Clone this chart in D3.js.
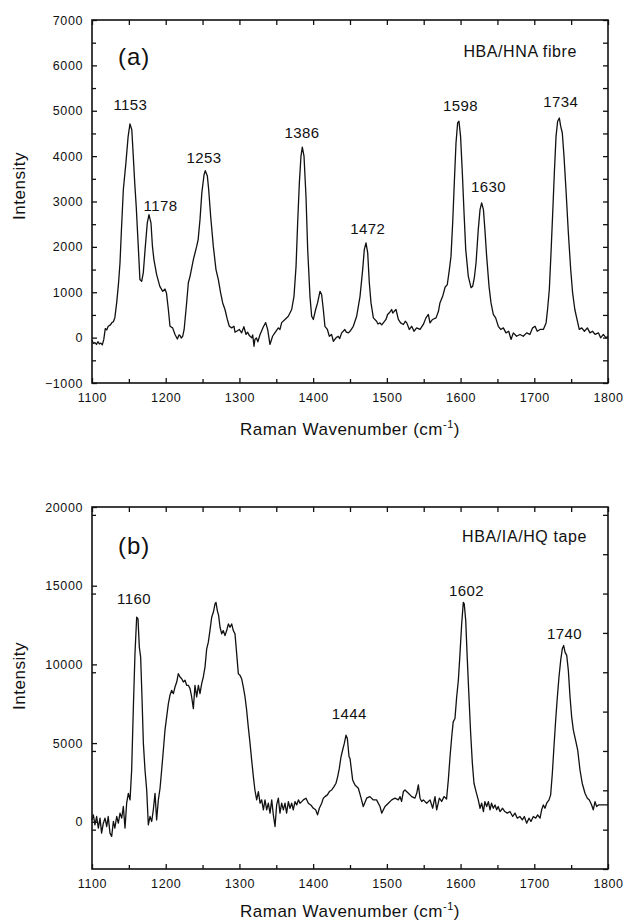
<!DOCTYPE html>
<meta charset="utf-8">

<!-- Load d3.js -->
<script src="https://d3js.org/d3.v7.min.js"></script>

<style>
  body { margin: 0; background: #fff; }
  svg text { font-family: "Liberation Sans", Arial, Helvetica, sans-serif; fill: #111; }
</style>

<!-- Create a div where the graph will take place -->
<div id="my_dataviz"></div>

<script>

  // ---- panel (a) : HBA/HNA fibre ----
  var wavenumberA = [1100, 1102, 1104, 1106, 1108, 1110, 1112, 1114, 1116, 1118, 1120, 1122, 1125, 1127, 1129, 1131,
    1133.5, 1136, 1138, 1140, 1142.5, 1146, 1149, 1151.5, 1154, 1156, 1158, 1160, 1163, 1165, 1167.4, 1169.6, 1172,
    1175, 1177.3, 1180, 1182, 1184, 1187.7, 1190, 1192, 1196, 1199, 1201, 1203.6, 1205.8, 1209.4, 1212.6, 1215.8,
    1218, 1219.4, 1221, 1223, 1225, 1228.4, 1230.7, 1233, 1237.5, 1242, 1244, 1246.5, 1249, 1252, 1253.7, 1256.5,
    1258.3, 1261, 1264.6, 1268.2, 1271.4, 1274.5, 1277.3, 1280.4, 1283.6, 1286.3, 1289.4, 1292.6, 1294, 1296.3,
    1299.8, 1303, 1306, 1309, 1311, 1313.5, 1316.6, 1318, 1319.8, 1321, 1323, 1325, 1328, 1332.5, 1335.6, 1338.3,
    1341.4, 1345, 1348, 1352.8, 1355, 1357.3, 1361.8, 1366.3, 1370.9, 1374, 1376.8, 1379, 1381.3, 1383.5, 1385.3,
    1387.6, 1390.3, 1392.6, 1395.7, 1398, 1400.3, 1403.4, 1406, 1409.3, 1411.5, 1413.8, 1416, 1419.3, 1422, 1425,
    1427.4, 1431, 1434, 1436, 1438.7, 1443, 1445, 1447.8, 1450, 1454.5, 1459, 1463.6, 1467.2, 1469.4, 1471.7, 1474,
    1476.2, 1478.5, 1481.7, 1486, 1488, 1490.7, 1493, 1495.2, 1498.8, 1501, 1504, 1506.5, 1508, 1510, 1512.4,
    1515.6, 1518.7, 1522.4, 1525, 1527, 1530.5, 1533.7, 1536.8, 1540.4, 1545, 1549.5, 1553, 1556.3, 1558.5, 1562,
    1566.7, 1570, 1572, 1575.7, 1579, 1582, 1584.8, 1587, 1589.3, 1591.5, 1593.8, 1596, 1597.8, 1600, 1602.4,
    1604.7, 1607, 1610.5, 1614.2, 1616.4, 1618.7, 1621, 1624, 1626.4, 1628.6, 1631, 1633, 1635.4, 1638.6, 1641.3,
    1644.4, 1647.6, 1651.2, 1654.4, 1658, 1661.6, 1665.3, 1668.4, 1671.6, 1676, 1680.6, 1685, 1689.7, 1694, 1697.8,
    1701, 1704, 1707.8, 1712.3, 1716, 1718, 1720.4, 1722.7, 1725, 1727.2, 1729.5, 1731.7, 1734, 1735.8, 1738,
    1740.3, 1743, 1746.2, 1749.4, 1752, 1755, 1757.5, 1761, 1764.3, 1768, 1772, 1775.6, 1779, 1782.4, 1787, 1790,
    1793.7, 1797.3, 1800];
  var intensityA = [-60, -130, -110, -150, -90, -140, -120, -160, -40, 200, 170, 250, 280, 330, 350, 440,
    770, 1200, 1650, 2400, 3260, 3850, 4430, 4710, 4580, 4000, 3400, 2890, 1940, 1280, 1240, 1430, 1940,
    2530, 2710, 2530, 2010, 1720, 1390, 1250, 1130, 1020, 1070, 985, 620, 250, 215, 70, -30,
    60, 45, -10, 30, 180, 770, 1210, 1350, 1720, 2010, 2160, 2600, 3190, 3590, 3680, 3560,
    3260, 2670, 2010, 1500, 1280, 985, 765, 620, 400, 250, 215, 250, 120, 140,
    180, 105, 240, 70, 120, 45, -5, 60, -190, -40, -5, -90, 70, 240, 330, 180,
    -150, 30, 105, 215, 180, 330, 400, 470, 620, 910, 1570, 2530, 3410, 4000, 4200,
    4000, 3110, 1940, 910, 470, 400, 620, 765, 1020, 950, 620, 250, 180, 30, 70,
    -80, -5, 30, -20, 105, 180, 120, 105, 140, 250, 470, 910, 1500, 1940, 2090, 1870,
    1210, 765, 435, 360, 300, 325, 280, 325, 400, 510, 560, 620, 540, 580, 620,
    400, 325, 290, 360, 325, 180, 250, 140, 215, 180, 290, 435, 510, 325, 400,
    435, 580, 765, 910, 1110, 1170, 1500, 1790, 2530, 3410, 4290, 4730, 4770, 4435, 3630,
    2750, 1940, 1350, 1100, 1130, 1320, 1650, 2380, 2820, 2970, 2820, 2380, 1790, 1130, 765,
    510, 435, 250, 180, 215, 105, 140, -40, 105, 30, 70, 30, 105, 70, 215,
    250, 140, 180, 180, 325, 620, 1060, 1870, 2750, 3630, 4435, 4770, 4840, 4660, 4510,
    4000, 3260, 2310, 1500, 985, 620, 435, 180, 215, 140, 215, 105, 140, 70, 105, -5,
    70, -5, 30];

  var peakLabelsA = ["1153", "1178", "1253", "1386", "1472", "1598", "1630", "1734"];
  var peakLabelXA = [1152, 1193, 1252, 1385, 1474, 1600, 1638, 1736];
  var peakLabelYA = [5020, 2780, 3850, 4410, 2280, 5000, 3200, 5080];

  // ---- panel (b) : HBA/IA/HQ tape ----
  var wavenumberB = [1100, 1101.8, 1104, 1106.3, 1108.6, 1110.9, 1113, 1115.4, 1117.6, 1120, 1122, 1124.4, 1126.7,
    1129, 1131, 1133.5, 1135.7, 1138, 1140.3, 1142.5, 1144.8, 1147, 1149.3, 1151.6, 1153.8, 1156, 1158.3, 1160.6,
    1162.4, 1164.2, 1166, 1167.8, 1169.7, 1171.9, 1174.2, 1176.4, 1178.7, 1181, 1183.2, 1185.5, 1187.7, 1190,
    1192.3, 1194.5, 1196.8, 1199, 1201.3, 1203.6, 1205.8, 1208, 1210.4, 1212.6, 1214.9, 1217.1, 1219.4, 1221.7,
    1223.9, 1226.2, 1228.4, 1230.7, 1233, 1235.2, 1237.5, 1239.7, 1242, 1244.3, 1246.5, 1248.8, 1251, 1253.3,
    1255.6, 1257.8, 1260, 1262.4, 1264.6, 1266.9, 1268.2, 1270, 1271.8, 1273.7, 1276, 1278, 1280.4, 1282.7, 1285,
    1287.2, 1289.5, 1291.7, 1294, 1296.3, 1298.5, 1300.8, 1303, 1305.3, 1307.6, 1309.8, 1312, 1314.4, 1316.6,
    1318.9, 1321, 1323.4, 1325.7, 1328, 1330.2, 1332.5, 1334.7, 1337, 1339.2, 1341.5, 1343.8, 1346, 1348.3,
    1350.5, 1352.8, 1355, 1357.3, 1359.6, 1361.8, 1364, 1366.4, 1368.6, 1370.9, 1373, 1375.4, 1377.7, 1380,
    1382.2, 1384.5, 1386.7, 1390.3, 1393.5, 1396.7, 1400.3, 1403.4, 1406, 1408.4, 1411.6, 1413.8, 1416, 1419.3,
    1422, 1425.2, 1428.3, 1431, 1433.3, 1435.5, 1437.8, 1440, 1442.3, 1444.6, 1446.4, 1448.7, 1450, 1453.6,
    1456.8, 1461.3, 1464.5, 1468, 1472.6, 1477, 1481.7, 1486, 1490.7, 1493, 1497.5, 1502, 1506.6, 1511, 1515.6,
    1517.9, 1520, 1522.4, 1524.6, 1529.2, 1533.7, 1538, 1540.5, 1542.7, 1545, 1547.2, 1549.5, 1554, 1558.6,
    1562.2, 1565.3, 1567.6, 1571.2, 1574.4, 1577.5, 1581, 1583.4, 1585.7, 1588, 1590, 1592.4, 1594.7, 1597,
    1599.2, 1601.5, 1603.7, 1605, 1607, 1609, 1611.4, 1613.7, 1616, 1618.2, 1621, 1624, 1626.4, 1628.6, 1631,
    1633, 1635.4, 1637.7, 1640, 1642, 1644.4, 1646.7, 1649, 1651, 1653.5, 1657, 1660, 1663.4, 1667, 1670.7,
    1673.8, 1677, 1680.6, 1683.8, 1686.5, 1689.7, 1692.8, 1695.5, 1698.7, 1701.9, 1704.6, 1707.8, 1710, 1712.3,
    1714.5, 1716.8, 1720, 1722.2, 1724.5, 1726.7, 1729, 1731.3, 1733.5, 1735.8, 1738, 1739.9, 1741.7, 1744,
    1746.2, 1748.5, 1750.7, 1753, 1756, 1758.9, 1762, 1765, 1768.8, 1772, 1774.7, 1777.8, 1780, 1782.4, 1784.6,
    1787, 1793.7, 1800];
  var intensityB = [120, 440, -190, 335, -400, 230, -720, -90, 230, -300, 335, -720, -930,
    20, -400, 335, -90, 550, 230, 970, -400, 1180, 1810, 1390, 3290, 7090, 10670, 13000,
    12890, 11100, 10460, 7930, 4980, 3290, 2020, -190, 335, 20, 760, 1810, 120, 1390,
    2130, 3290, 4560, 5820, 6670, 7510, 8040, 8350, 8140, 8560, 8880, 9410, 9200, 9090,
    8880, 8990, 8670, 8670, 8460, 7930, 7190, 8670, 7930, 8670, 8140, 8780, 9200, 9830,
    10990, 11410, 12150, 13000, 13310, 13840, 13940, 13420, 13100, 12360, 11940, 12150, 11830, 12150, 12570,
    12360, 12570, 12150, 11940, 10670, 9410, 9300, 9090, 8560, 7930, 7090, 6030, 4980, 3920,
    2870, 2020, 1390, 1920, 1180, 1390, 760, 1390, 760, 1180, 550, 1390, 440, -300,
    1070, 1500, 550, 1180, 760, 1180, 550, 1280, 860, 1180, 760, 1280, 1070, 1390,
    1180, 1280, 1390, 1500, 1180, 1070, 860, 760, 440, 860, 1180, 1500, 1600, 1710,
    1920, 2020, 2230, 2450, 2870, 3390, 4130, 4560, 4980, 5500, 5290, 4130, 4030, 2660,
    2340, 2130, 1600, 970, 1500, 1600, 1390, 1390, 970, 550, 970, 1180, 1390, 1500, 1390,
    1600, 1290, 1920, 2020, 1810, 1600, 1500, 1810, 2340, 1500, 1290, 1390, 1180, 1390,
    860, 1600, 760, 1500, 1290, 1600, 1450, 2660, 4130, 5400, 6350, 6560, 7930, 8990,
    10670, 12570, 13940, 13840, 12780, 10460, 7930, 5610, 3710, 2450, 1920, 1390, 860, 1180, 650,
    1280, 970, 1280, 760, 1180, 860, 1070, 760, 970, 650, 860, 650, 550, 650, 335,
    550, 230, 335, 120, 335, -90, 230, 20, 335, 230, 440, 230, 760, 1070,
    860, 1180, 1390, 1710, 3080, 4770, 6450, 7930, 9200, 10250, 10990, 11200, 10780, 10570,
    9620, 7930, 6670, 5820, 5190, 4560, 3290, 2450, 1810, 1500, 1390, 1070, 760, 1280, 970,
    1070, 1070, 1070];

  var peakLabelsB = ["1160", "1444", "1602", "1740"];
  var peakLabelXB = [1157, 1449, 1608, 1741];
  var peakLabelYB = [13840, 6560, 14370, 11620];

  // axis ticks
  var xTickValues = [1100, 1200, 1300, 1400, 1500, 1600, 1700, 1800];
  var yTickValuesA = [-1000, 0, 1000, 2000, 3000, 4000, 5000, 6000, 7000];
  var yTickValuesB = [0, 5000, 10000, 15000, 20000];

  // set the dimensions of the page
  var svg = d3.select("#my_dataviz")
    .append("svg")
      .attr("width", 626)
      .attr("height", 923);

  var plain = d3.format("d");

  function drawPanel(p) {
    var width = 516, height = p.height;
    var g = svg.append("g")
      .attr("transform", "translate(" + p.left + "," + p.top + ")");

    var x = d3.scaleLinear().domain([1100, 1800]).range([0, width]);
    var y = d3.scaleLinear().domain(p.yDomain).range([height, 0]);

    var xMinor = d3.range(1150, 1800, 100);
    var yMinor = d3.range(p.yDomain[0] + p.yStep / 2, p.yDomain[1], p.yStep)
      .filter(function(v) { return v > p.yDomain[0] && v < p.yDomain[1]; });
    var yAll = d3.range(p.yDomain[0], p.yDomain[1] + 1, p.yStep / 2);

    // bottom axis, inward ticks
    g.append("g")
      .attr("class", "axis")
      .attr("transform", "translate(0," + height + ")")
      .call(d3.axisBottom(x).tickValues(xTickValues).tickFormat(plain)
        .tickSizeInner(-5).tickSizeOuter(0).tickPadding(10));
    g.append("g")
      .attr("class", "axis minor")
      .attr("transform", "translate(0," + height + ")")
      .call(d3.axisBottom(x).tickValues(xMinor).tickSizeInner(-4).tickSizeOuter(0).tickFormat(""));
    // top axis
    g.append("g")
      .attr("class", "axis minor")
      .call(d3.axisTop(x).tickValues(xTickValues.concat(xMinor)).tickSizeInner(-5).tickSizeOuter(0).tickFormat(""));
    // left axis
    g.append("g")
      .attr("class", "axis")
      .call(d3.axisLeft(y).tickValues(p.yTicks).tickFormat(plain)
        .tickSizeInner(-5).tickSizeOuter(0).tickPadding(9));
    g.append("g")
      .attr("class", "axis minor")
      .call(d3.axisLeft(y).tickValues(yMinor).tickSizeInner(-4).tickSizeOuter(0).tickFormat(""));
    // right axis
    g.append("g")
      .attr("class", "axis minor")
      .attr("transform", "translate(" + width + ",0)")
      .call(d3.axisRight(y).tickValues(yAll).tickSizeInner(-5).tickSizeOuter(0).tickFormat(""));

    g.selectAll(".axis .domain").remove();
    g.selectAll(".axis line").attr("stroke", "#111").attr("stroke-width", 1.3);
    g.selectAll(".axis text")
      .style("font-size", "12.5px")
      .style("letter-spacing", "0.6px")
      .attr("fill", "#111");

    // frame
    g.append("rect")
      .attr("width", width)
      .attr("height", height)
      .attr("fill", "none")
      .attr("stroke", "#111")
      .attr("stroke-width", 1.6);

    // spectrum
    var pts = p.wn.map(function(d, i) { return [d, p.inten[i]]; });
    g.append("path")
      .datum(pts)
      .attr("fill", "none")
      .attr("stroke", "#111")
      .attr("stroke-width", 1.3)
      .attr("stroke-linejoin", "round")
      .attr("d", d3.line()
        .x(function(d) { return x(d[0]); })
        .y(function(d) { return y(d[1]); }));

    // peak labels
    g.selectAll(".peak")
      .data(p.labels)
      .enter()
      .append("text")
        .attr("x", function(d, i) { return x(p.labelX[i]); })
        .attr("y", function(d, i) { return y(p.labelY[i]); })
        .attr("text-anchor", "middle")
        .style("font-size", "15px")
        .style("letter-spacing", "0.4px")
        .text(function(d) { return d; });

    // panel letter
    g.append("text")
      .attr("x", 26)
      .attr("y", p.letterY)
      .style("font-size", "24px")
      .style("letter-spacing", "1px")
      .text(p.letter);

    // sample name
    g.append("text")
      .attr("x", p.nameX)
      .attr("y", p.nameY)
      .attr("text-anchor", "end")
      .style("font-size", "16px")
      .style("letter-spacing", "0.6px")
      .text(p.name);

    // y axis title
    g.append("text")
      .attr("transform", "translate(" + (25 - p.left) + "," + p.intensityY + ")rotate(-90)")
      .attr("text-anchor", "middle")
      .style("font-size", "17px")
      .style("letter-spacing", "0.5px")
      .text("Intensity");

    // x axis title
    var t = g.append("text")
      .attr("x", width / 2)
      .attr("y", height + p.titleGap)
      .attr("text-anchor", "middle")
      .style("font-size", "17px")
      .style("letter-spacing", "0.5px");
    t.append("tspan").text("Raman Wavenumber (cm");
    t.append("tspan").attr("dy", -7).style("font-size", "11px").text("-1");
    t.append("tspan").attr("dy", 7).text(")");
  }

  drawPanel({
    left: 92, top: 20, height: 363,
    yDomain: [-1000, 7000], yStep: 1000, yTicks: yTickValuesA,
    wn: wavenumberA, inten: intensityA,
    labels: peakLabelsA, labelX: peakLabelXA, labelY: peakLabelYA,
    letter: "(a)", letterY: 45,
    name: "HBA/HNA fibre", nameX: 485, nameY: 37,
    intensityY: 166, titleGap: 52
  });

  drawPanel({
    left: 92, top: 507, height: 362,
    yDomain: [-3000, 20000], yStep: 5000, yTicks: yTickValuesB,
    wn: wavenumberB, inten: intensityB,
    labels: peakLabelsB, labelX: peakLabelXB, labelY: peakLabelYB,
    letter: "(b)", letterY: 47,
    name: "HBA/IA/HQ tape", nameX: 495, nameY: 35,
    intensityY: 169, titleGap: 48
  });

</script>
